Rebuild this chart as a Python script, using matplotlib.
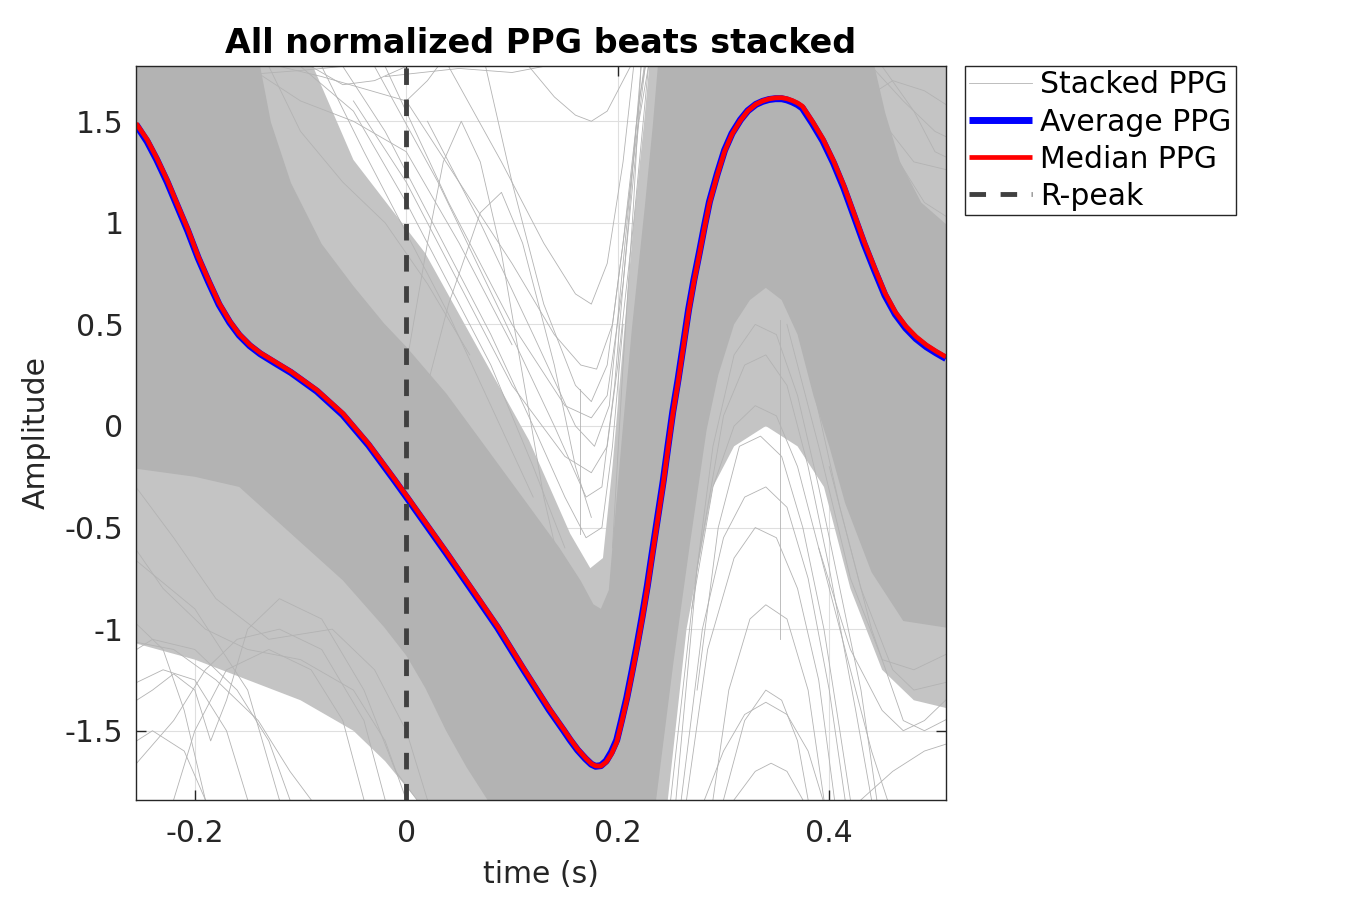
import numpy as np
import matplotlib
matplotlib.use("Agg")
import matplotlib.pyplot as plt

plt.rcParams['font.family'] = ['DejaVu Sans']
plt.rcParams['axes.unicode_minus'] = False

# ---------------- data ----------------
t_avg = [-0.2556, -0.245, -0.236, -0.226, -0.2164, -0.2066, -0.1968, -0.187, -0.177,
         -0.167, -0.158, -0.148, -0.138, -0.124, -0.109, -0.0845, -0.060, -0.0357,
         -0.0112, 0.0, 0.0376, 0.062, 0.0864, 0.111, 0.135, 0.149, 0.155, 0.162,
         0.1695, 0.175, 0.179, 0.184, 0.189, 0.194, 0.199, 0.2035, 0.2085, 0.213,
         0.218, 0.223, 0.228, 0.233, 0.238, 0.243, 0.2476, 0.252, 0.257, 0.262,
         0.267, 0.272, 0.277, 0.282, 0.2867, 0.294, 0.301, 0.308, 0.316, 0.323,
         0.3306, 0.337, 0.343, 0.349, 0.355, 0.360, 0.365, 0.370, 0.3746, 0.384,
         0.394, 0.404, 0.4137, 0.423, 0.433, 0.443, 0.4527, 0.4625, 0.4723, 0.482,
         0.4918, 0.501, 0.5104]
avg_ppg = [1.484, 1.40, 1.311, 1.20, 1.081, 0.96, 0.827, 0.71, 0.597,
           0.51, 0.447, 0.395, 0.355, 0.31, 0.263, 0.171, 0.055, -0.094,
           -0.267, -0.348, -0.624, -0.808, -0.993, -1.20, -1.396, -1.50, -1.546, -1.595,
           -1.638, -1.665, -1.675, -1.672, -1.649, -1.605, -1.546, -1.45, -1.338, -1.22,
           -1.085, -0.94, -0.785, -0.61, -0.44, -0.27, -0.094, 0.07, 0.228, 0.40,
           0.574, 0.72, 0.850, 0.985, 1.104, 1.24, 1.357, 1.44, 1.507, 1.552,
           1.583, 1.598, 1.607, 1.611, 1.611, 1.605, 1.595, 1.582, 1.565, 1.49,
           1.403, 1.295, 1.173, 1.04, 0.896, 0.765, 0.643, 0.55, 0.482, 0.43,
           0.390, 0.36, 0.332]
med_ppg = [1.49, 1.41, 1.32, 1.21, 1.09, 0.97, 0.835, 0.718, 0.605,
           0.517, 0.453, 0.40, 0.36, 0.316, 0.268, 0.177, 0.062, -0.087,
           -0.26, -0.341, -0.617, -0.80, -0.986, -1.193, -1.39, -1.494, -1.54, -1.59,
           -1.634, -1.662, -1.673, -1.674, -1.655, -1.615, -1.557, -1.462, -1.35, -1.233,
           -1.098, -0.953, -0.798, -0.623, -0.453, -0.283, -0.107, 0.057, 0.215, 0.388,
           0.562, 0.709, 0.840, 0.976, 1.096, 1.233, 1.351, 1.436, 1.504, 1.551,
           1.584, 1.600, 1.610, 1.615, 1.616, 1.611, 1.602, 1.590, 1.574, 1.50,
           1.414, 1.306, 1.185, 1.052, 0.908, 0.777, 0.655, 0.561, 0.492, 0.44,
           0.399, 0.368, 0.340]

# dense core of the stacked beats (upper edge left->right, lower edge left->right)
core_up_t = [-0.27, -0.143, -0.128, -0.109, -0.080, -0.050, -0.021, 0.0, 0.038, 0.077,
             0.116, 0.145, 0.165, 0.177, 0.184, 0.1915, 0.196, 0.2037, 0.2134, 0.2256,
             0.233, 0.240, 0.437, 0.453, 0.467, 0.487, 0.52]
core_up_y = [1.9, 1.9, 1.495, 1.196, 0.896, 0.689, 0.505, 0.39, 0.159, -0.117,
             -0.394, -0.601, -0.762, -0.878, -0.90, -0.808, -0.532, -0.071, 0.482, 1.081,
             1.472, 1.9, 1.9, 1.54, 1.30, 1.10, 0.95]
core_lo_t = [-0.27, -0.2, -0.158, -0.109, -0.06, -0.021, 0.0, 0.018, 0.0376, 0.057,
             0.0767, 0.085, 0.2336, 0.2525, 0.268, 0.284, 0.295, 0.31, 0.325, 0.34,
             0.355, 0.37, 0.385, 0.40, 0.415, 0.44, 0.47, 0.52]
core_lo_y = [-0.2, -0.25, -0.30, -0.53, -0.76, -0.99, -1.13, -1.29, -1.50, -1.68,
             -1.84, -1.95, -1.95, -1.17, -0.59, -0.02, 0.25, 0.50, 0.62, 0.68,
             0.62, 0.45, 0.15, -0.10, -0.38, -0.72, -0.96, -1.0]

# looser fringe of beats around the core
fringe_up_t = [-0.27, -0.099, -0.05, 0.018, 0.067, 0.116, 0.155, 0.174, 0.186, 0.195,
               0.205, 0.215, 0.225, 0.232, 0.52]
fringe_up_y = [1.9, 1.9, 1.31, 0.85, 0.39, -0.07, -0.53, -0.70, -0.65, -0.2,
               0.4, 1.0, 1.5, 1.9, 1.9]
fringe_lo_t = [-0.27, -0.2, -0.15, -0.1, -0.05, -0.02, 0.01, 0.02, 0.245, 0.265,
               0.29, 0.31, 0.34, 0.37, 0.395, 0.42, 0.45, 0.48, 0.52]
fringe_lo_y = [-1.05, -1.15, -1.25, -1.35, -1.5, -1.65, -1.84, -1.95, -1.95, -1.0,
               -0.3, -0.1, 0.0, -0.1, -0.3, -0.8, -1.2, -1.35, -1.4]

# individual outlying beats
outlier_t = [
    [0.116, 0.14, 0.16, 0.175, 0.19, 0.205, 0.212],
    [0.0, 0.02, 0.035, 0.052, 0.07, 0.09, 0.11, 0.13, 0.15],
    [0.075, 0.10, 0.13, 0.16, 0.175, 0.19, 0.205, 0.22, 0.226],
    [0.0, 0.05, 0.10, 0.14, 0.165, 0.18, 0.195, 0.21, 0.226],
    [-0.02, 0.04, 0.10, 0.15, 0.175, 0.19, 0.205, 0.22, 0.229],
    [-0.05, 0.0, 0.05, 0.10, 0.15, 0.175, 0.19, 0.20, 0.215, 0.229],
    [-0.02, 0.05, 0.10, 0.13],
    [-0.15, -0.10, -0.05, 0.0, 0.05, 0.10],
    [-0.12, -0.08, -0.04, 0.0, 0.02, 0.03],
    [-0.10, -0.05, 0.0, 0.04, 0.08, 0.12, 0.15],
    [-0.2, -0.15, -0.10, -0.06],
    [-0.27, -0.22, -0.18, -0.14, -0.11, -0.09],
    [-0.27, -0.23, -0.20, -0.17, -0.15],
    [-0.27, -0.24, -0.22, -0.20, -0.185, -0.17, -0.15, -0.12, -0.08, -0.04, -0.01, 0.01],
    [-0.27, -0.22, -0.18, -0.13, -0.07, -0.03, 0.0, 0.02],
    [-0.27, -0.22, -0.19, -0.16, -0.12, -0.08, -0.04, -0.02],
    [-0.27, -0.2, -0.15, -0.12],
    [-0.27, -0.23, -0.21, -0.19],
    [0.282, 0.30, 0.32, 0.34, 0.36, 0.38, 0.394],
    [0.31, 0.33, 0.345, 0.36, 0.375],
    [0.26, 0.28, 0.30, 0.32, 0.34, 0.36, 0.38, 0.40, 0.415],
    [0.265, 0.285, 0.31, 0.33, 0.35, 0.37, 0.39, 0.405],
    [0.25, 0.27, 0.29, 0.31, 0.33, 0.35, 0.37, 0.39, 0.42, 0.44, 0.455],
    [0.40, 0.43, 0.46, 0.48, 0.52],
    [0.38, 0.41, 0.44, 0.47, 0.49, 0.52],
    [0.43, 0.46, 0.49, 0.52],
    [0.42, 0.45, 0.48, 0.52],
    [0.44, 0.47, 0.50, 0.52],
    [0.43, 0.46, 0.49, 0.52],
    [0.3534, 0.3534],
    [0.1646, 0.1646],
    [-0.03, 0.03, 0.09, 0.14, 0.17, 0.185, 0.197, 0.21, 0.222],
    [0.02, 0.07, 0.12, 0.16, 0.178, 0.192, 0.205, 0.218, 0.225],
    [0.04, 0.09, 0.13, 0.16, 0.175, 0.19, 0.205, 0.215],
    [0.01, 0.04, 0.07, 0.09, 0.11, 0.14, 0.16, 0.175],
    [-0.06, -0.02, 0.03, 0.08, 0.12, 0.15, 0.17, 0.185, 0.195, 0.205],
    [0.195, 0.205, 0.215, 0.222],
    [0.27, 0.29, 0.31, 0.33, 0.35, 0.37, 0.39, 0.41, 0.43, 0.445],
    [0.275, 0.295, 0.315, 0.335, 0.355, 0.375, 0.395, 0.41, 0.42],
    [0.29, 0.305, 0.325, 0.34, 0.36, 0.38, 0.395],
    [0.255, 0.275, 0.30, 0.32, 0.34, 0.36, 0.38, 0.40, 0.425, 0.44],
    [0.30, 0.32, 0.34, 0.355, 0.37, 0.38],
    [0.39, 0.42, 0.45, 0.47, 0.49, 0.52],
    [0.36, 0.39, 0.42, 0.45, 0.48, 0.52],
    [-0.27, -0.23, -0.19, -0.15, -0.10, -0.05, -0.02, 0.0],
    [-0.27, -0.24, -0.20, -0.16, -0.13, -0.11],
    [-0.27, -0.24, -0.21, -0.19],
    [-0.22, -0.20, -0.17, -0.13, -0.09, -0.06, -0.04],
    [-0.13, -0.10, -0.06, -0.02, 0.02, 0.06],
    [-0.09, -0.06, -0.03, 0.0],
    [-0.08, -0.04, 0.0, 0.04, 0.08, 0.12],
    [0.43, 0.46, 0.49, 0.52],
    [0.45, 0.48, 0.50, 0.52],
]
outlier_y = [
    [1.77, 1.62, 1.53, 1.50, 1.55, 1.70, 1.77],
    [0.3, 0.9, 1.3, 1.50, 1.3, 0.85, 0.25, -0.35, -0.8],
    [1.77, 1.2, 0.6, 0.2, 0.12, 0.3, 0.9, 1.6, 1.77],
    [1.6, 1.2, 0.8, 0.45, 0.3, 0.28, 0.5, 1.1, 1.77],
    [1.77, 1.1, 0.5, 0.1, 0.04, 0.15, 0.7, 1.5, 1.77],
    [1.6, 1.2, 0.7, 0.2, -0.15, -0.23, -0.1, 0.3, 1.0, 1.77],
    [1.72, 1.76, 1.74, 1.77],
    [1.77, 1.6, 1.5, 1.35, 0.9, 0.4],
    [1.77, 1.72, 1.66, 1.6, 1.7, 1.77],
    [1.77, 1.55, 1.1, 0.7, 0.3, -0.2, -0.6],
    [1.77, 1.73, 1.75, 1.77],
    [-1.05, -1.1, -1.25, -1.45, -1.7, -1.84],
    [-1.3, -1.2, -1.25, -1.5, -1.84],
    [-1.4, -1.3, -1.22, -1.3, -1.55, -1.35, -1.0, -0.85, -0.95, -1.3, -1.7, -1.84],
    [-0.2, -0.55, -0.85, -1.05, -1.0, -1.2, -1.5, -1.84],
    [-1.75, -1.45, -1.2, -1.05, -1.0, -1.1, -1.45, -1.84],
    [-0.6, -0.9, -1.3, -1.84],
    [-0.9, -1.1, -1.4, -1.84],
    [-1.84, -1.6, -1.42, -1.36, -1.42, -1.6, -1.84],
    [-1.84, -1.7, -1.66, -1.7, -1.84],
    [-1.84, -1.0, -0.55, -0.35, -0.3, -0.4, -0.75, -1.3, -1.84],
    [-1.84, -1.1, -0.65, -0.5, -0.55, -0.8, -1.25, -1.84],
    [-1.84, -0.9, -0.3, 0.0, 0.1, 0.05, -0.2, -0.6, -1.2, -1.6, -1.84],
    [-0.2, -0.8, -1.2, -1.3, -1.25],
    [0.3, -0.4, -1.0, -1.45, -1.5, -1.42],
    [-1.84, -1.7, -1.6, -1.55],
    [1.77, 1.5, 1.3, 1.25],
    [1.77, 1.6, 1.45, 1.4],
    [1.6, 1.7, 1.65, 1.55],
    [0.52, -1.05],
    [0.18, -0.53],
    [1.77, 1.2, 0.55, 0.0, -0.35, -0.3, 0.2, 1.0, 1.77],
    [1.5, 1.0, 0.45, 0.0, -0.1, 0.1, 0.8, 1.5, 1.77],
    [1.77, 1.3, 0.9, 0.65, 0.6, 0.8, 1.3, 1.77],
    [0.0, 0.6, 1.05, 1.15, 0.9, 0.3, -0.2, -0.45],
    [1.77, 1.45, 0.95, 0.45, 0.0, -0.35, -0.55, -0.5, -0.1, 0.5],
    [-0.6, 0.3, 1.1, 1.77],
    [-0.9, -0.1, 0.35, 0.5, 0.45, 0.15, -0.3, -0.8, -1.3, -1.84],
    [-1.3, -0.5, -0.1, -0.05, -0.15, -0.5, -1.0, -1.5, -1.84],
    [-1.84, -1.3, -0.95, -0.88, -0.95, -1.3, -1.84],
    [-1.84, -0.7, 0.05, 0.3, 0.35, 0.2, -0.2, -0.7, -1.4, -1.84],
    [-1.84, -1.45, -1.3, -1.35, -1.55, -1.84],
    [-0.6, -1.1, -1.4, -1.5, -1.45, -1.3],
    [0.5, -0.1, -0.75, -1.15, -1.2, -1.1],
    [-0.5, -0.8, -1.0, -1.1, -1.15, -1.3, -1.55, -1.84],
    [-1.15, -1.05, -1.1, -1.3, -1.55, -1.84],
    [-1.6, -1.5, -1.6, -1.84],
    [-1.84, -1.5, -1.2, -1.1, -1.2, -1.45, -1.84],
    [1.77, 1.45, 1.2, 1.0, 0.7, 0.35],
    [1.77, 1.68, 1.7, 1.77],
    [1.77, 1.35, 0.95, 0.55, 0.1, -0.35],
    [1.77, 1.35, 1.1, 1.0],
    [1.77, 1.55, 1.35, 1.3],
]

x_ticks = [-0.2, 0, 0.2, 0.4]
x_ticklabels = ['-0.2', '0', '0.2', '0.4']
y_ticks = [-1.5, -1, -0.5, 0, 0.5, 1, 1.5]
y_ticklabels = ['-1.5', '-1', '-0.5', '0', '0.5', '1', '1.5']
r_peak_time = 0.0

# ---------------- figure ----------------
fig = plt.figure(figsize=(13.5, 9), dpi=100)
ax = fig.add_axes([136 / 1350, 100 / 900, 810 / 1350, 734 / 900])

GRAY = '#b3b3b3'
TXT = '#262626'

ax.set_axisbelow(True)
ax.grid(True, color='#dfdfdf', linewidth=0.8, zorder=0)

fringe_x = list(fringe_up_t) + list(fringe_lo_t[::-1])
fringe_y = list(fringe_up_y) + list(fringe_lo_y[::-1])
ax.fill(fringe_x, fringe_y, color='#c4c4c4', lw=0, zorder=1)

core_x = list(core_up_t) + list(core_lo_t[::-1])
core_y = list(core_up_y) + list(core_lo_y[::-1])
ax.fill(core_x, core_y, color=GRAY, lw=0, zorder=2)

for i, (tt, yy) in enumerate(zip(outlier_t, outlier_y)):
    ax.plot(tt, yy, color=GRAY, lw=0.6, zorder=3,
            label='Stacked PPG' if i == 0 else None)

ax.plot(t_avg, avg_ppg, color='#0000ff', lw=5, zorder=5, label='Average PPG',
        solid_capstyle='butt')
ax.plot(t_avg, med_ppg, color='#ff0000', lw=3.4, zorder=6, label='Median PPG',
        solid_capstyle='butt')
ax.axvline(r_peak_time, color='#404040', lw=3.5, dashes=(3.4, 3.0), zorder=7,
           label='R-peak')

ax.set_xlim(-0.2556, 0.5104)
ax.set_ylim(-1.841, 1.772)
ax.set_xticks(x_ticks)
ax.set_xticklabels(x_ticklabels)
ax.set_yticks(y_ticks)
ax.set_yticklabels(y_ticklabels)
ax.tick_params(axis='both', direction='in', length=7, width=1, colors=TXT,
               labelsize=21.5, top=True, right=True)
ax.tick_params(axis='x', pad=14)
ax.tick_params(axis='y', pad=9)
for s in ax.spines.values():
    s.set_color(TXT)
    s.set_linewidth(1.0)
    s.set_zorder(10)

ax.set_xlabel('time (s)', fontsize=21.5, color=TXT, labelpad=8)
ax.set_ylabel('Amplitude', fontsize=21.5, color=TXT, labelpad=10)
ax.set_title('All normalized PPG beats stacked', fontsize=24, fontweight='bold',
             color='black', pad=9)

leg = ax.legend(loc='upper left', bbox_to_anchor=(965 / 1350, 1 - 66 / 900),
                bbox_transform=fig.transFigure, borderaxespad=0, fontsize=21.5,
                frameon=True, fancybox=False, edgecolor=TXT, framealpha=1,
                handlelength=2.1, handletextpad=0.25, labelspacing=0.27,
                borderpad=0.15)
leg.get_frame().set_linewidth(1.0)
for txt in leg.get_texts():
    txt.set_color('black')

fig.savefig('out.png', dpi=100)
